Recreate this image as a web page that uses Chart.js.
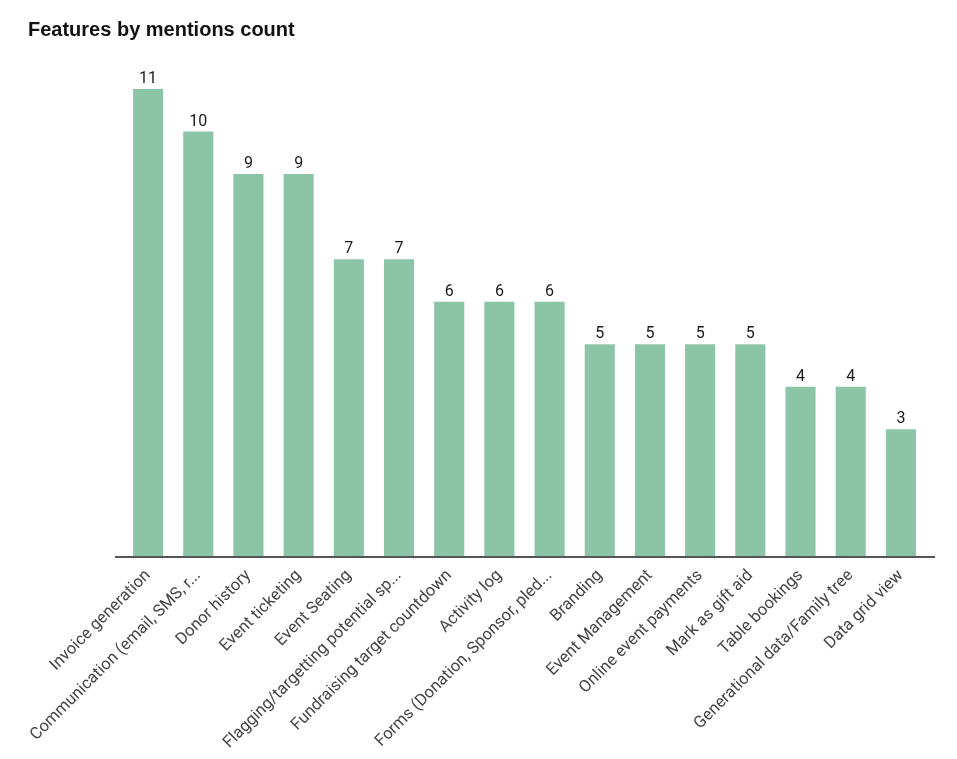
<!DOCTYPE html>
<html>
<head>
<meta charset="utf-8">
<script src="https://cdn.jsdelivr.net/npm/chart.js@4"></script>
<style>
  html, body { margin: 0; padding: 0; background: #fff; }
  #wrap { width: 957px; height: 759px; }
</style>
</head>
<body>
<div id="wrap"><canvas id="chart1"></canvas></div>
<script>
// data
const features = [
  'Invoice generation',
  'Communication (email, SMS, r...',
  'Donor history',
  'Event ticketing',
  'Event Seating',
  'Flagging/targetting potential sp...',
  'Fundraising target countdown',
  'Activity log',
  'Forms (Donation, Sponsor, pled...',
  'Branding',
  'Event Management',
  'Online event payments',
  'Mark as gift aid',
  'Table bookings',
  'Generational data/Family tree',
  'Data grid view'
];
const mentions = [11, 10, 9, 9, 7, 7, 6, 6, 6, 5, 5, 5, 5, 4, 4, 3];
const chartTitle = 'Features by mentions count';

let ctx = document.getElementById('chart1').getContext('2d');

// value above each bar + the dark baseline
const barExtras = {
  id: 'barExtras',
  afterDatasetsDraw(chart) {
    const c = chart.ctx;
    const area = chart.chartArea;
    c.save();
    c.strokeStyle = '#555';
    c.lineWidth = 2;
    c.beginPath();
    c.moveTo(area.left - 8, area.bottom);
    c.lineTo(area.right + 9, area.bottom);
    c.stroke();

    c.fillStyle = '#1a1a1a';
    c.font = '16px Roboto';
    c.textAlign = 'center';
    c.textBaseline = 'bottom';
    chart.getDatasetMeta(0).data.forEach((bar, i) => {
      c.fillText(mentions[i], bar.x, bar.y - 2);
    });
    c.restore();
  }
};

let myChart = new Chart(ctx, {
  type: 'bar',
  data: {
    labels: features,
    datasets: [{
      label: 'Mentions',
      data: mentions,
      backgroundColor: 'rgb(140, 196, 168)',
      borderWidth: 0,
      categoryPercentage: 1,
      barPercentage: 0.6
    }]
  },
  options: {
    responsive: true,
    maintainAspectRatio: false,
    animation: false,
    layout: { padding: { left: 28, right: 31, top: 0, bottom: 0 } },
    plugins: {
      legend: { display: false },
      tooltip: { enabled: false },
      title: {
        display: true,
        text: chartTitle,
        align: 'start',
        color: '#111',
        font: { family: 'Liberation Sans', size: 20, weight: 'bold', lineHeight: 1.2 },
        padding: { top: 18, bottom: 47 }
      }
    },
    scales: {
      x: {
        grid: { display: false },
        border: { display: false },
        ticks: {
          autoSkip: false,
          minRotation: 45,
          maxRotation: 45,
          padding: 1,
          color: '#444',
          font: { family: 'Roboto', size: 16.5 }
        },
        afterFit: s => { s.height = 202; }
      },
      y: {
        min: 0,
        max: 11,
        grid: { display: false },
        border: { display: false },
        ticks: { display: false },
        afterFit: s => { s.width = 95; }
      }
    }
  },
  plugins: [barExtras]
});
</script>
</body>
</html>
